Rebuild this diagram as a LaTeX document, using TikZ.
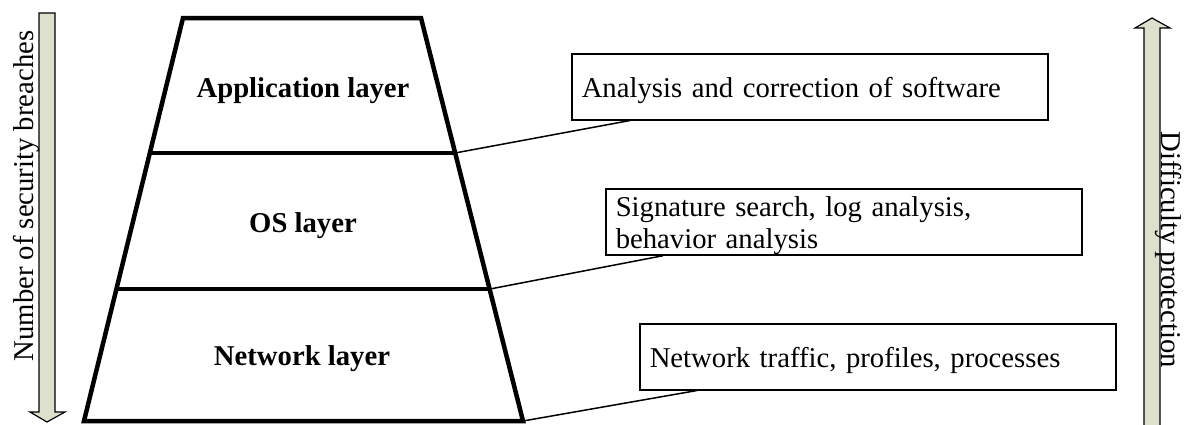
\documentclass[tikz,border=0pt]{standalone}
\usepackage{fontspec}
\setmainfont{Liberation Serif}
\definecolor{shaft}{RGB}{221,224,204}
\begin{document}
\begin{tikzpicture}[x=1pt, y=-1pt,
  layer/.style={line width=4.5pt},
  title/.style={anchor=base, font=\fontsize{28.7}{32}\selectfont\bfseries},
  desc/.style={draw=black, line width=1.5pt, anchor=north west, minimum width=476pt, minimum height=66pt, text width=456pt, inner xsep=10pt, inner ysep=0pt, align=left, font=\fontsize{28.7}{32}\selectfont, execute at begin node={\rule{0pt}{28pt}}},
  link/.style={line width=1.5pt},
  side/.style={draw=black, line width=1.2pt, fill=shaft},
  sidetext/.style={anchor=base, font=\fontsize{28.7}{32}\selectfont}]
\useasboundingbox (0,0) rectangle (1187,424);
% side arrows
\draw[side] (39,13) -- (55,13) -- (55,412) -- (65,412) -- (47,422) -- (30,412) -- (39,412) -- cycle;
\draw[side] (1144,430) -- (1144,28) -- (1135,28) -- (1152,18) -- (1170,28) -- (1160,28) -- (1160,430) -- cycle;
\node[sidetext, rotate=90] (breaches) at (34,196) {Number of security breaches};
\node[sidetext, rotate=-90] (difficulty) at (1161,250) {Difficulty protection};
% the layers
\coordinate (tl) at (183,18);
\coordinate (tr) at (421,18);
\coordinate (br) at (523,421);
\coordinate (bl) at (84,421);
\coordinate (app w) at (150,153);
\coordinate (app e) at (455,153);
\coordinate (os w) at (116,289);
\coordinate (os e) at (490,289);
\draw[layer] (tl) -- (tr) -- (br) -- (bl) -- cycle;
\draw[layer] (app w) -- (app e);
\draw[layer] (os w) -- (os e);
\node[title] (app) at (303,97) {Application layer};
\node[title] (os) at (303,232) {OS layer};
\node[title] (net) at (302,365) {Network layer};
% methods
\node[desc] (soft) at (571,53) {Analysis and correction of software};
\node[desc] (sig) at (605,188) {Signature search, log analysis,\\behavior analysis};
\node[desc] (traffic) at (639,323) {Network traffic, profiles, processes};
\draw[link] (app e) -- ([xshift=59pt]soft.south west);
\draw[link] (os e) -- ([xshift=58pt]sig.south west);
\draw[link] (br) -- ([xshift=58pt]traffic.south west);
\end{tikzpicture}
\end{document}
